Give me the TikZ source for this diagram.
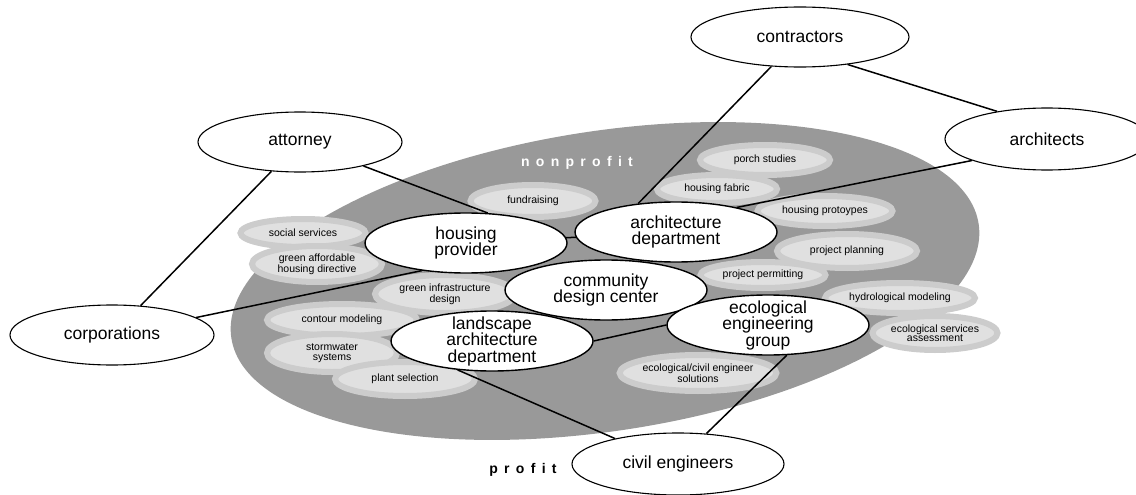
\documentclass[tikz,border=0pt]{standalone}
\usepackage{fontspec}
\setmainfont{Liberation Sans}
\usepackage{tikz}
\usetikzlibrary{shapes.geometric}

% gray field and the connectors sit under the white ellipses
\pgfdeclarelayer{shade}
\pgfdeclarelayer{links}
\pgfsetlayers{shade,links,main}

\begin{document}
\begin{tikzpicture}[x=1pt, y=-1pt, line width=1.4pt,
  main node/.style={ellipse,draw,fill=white,inner sep=0pt,inner ysep=-5pt,
    minimum width=202pt,minimum height=60pt,align=center,
    font=\fontsize{17.5}{16.5}\selectfont},
  side node/.style={main node,line width=1.1pt,minimum width=204pt},
  tag/.style={ellipse,fill=black!12,draw=black!20,line width=6pt,inner sep=0pt,
    minimum width=130pt,minimum height=30pt,align=center,
    font=\fontsize{10.5}{9.5}\selectfont},
  zone/.style={font=\bfseries\fontsize{14}{14}\selectfont\addfontfeature{LetterSpace=45}}]

\useasboundingbox (0,0) rectangle (1136,495);

% main groups
\node[main node] (hp) at (466,243) {housing\\provider};
\node[main node] (ad) at (676,232) {architecture\\department};
\node[main node] (cdc) at (606,290) {community\\design center};
\node[main node] (la) at (492,341) {landscape\\architecture\\department};
\node[main node] (eg) at (768,325) {ecological\\engineering\\group};

% partners outside
\node[side node] (att) at (300,142) {attorney};
\node[side node, minimum width=218pt] (co) at (800,37) {contractors};
\node[side node, minimum height=62pt] (ar) at (1047,139) {architects};
\node[side node] (corp) at (112,335) {corporations};
\node[side node, minimum width=212pt, minimum height=62pt] (ce) at (678,464) {civil engineers};

\begin{pgfonlayer}{shade}
\fill[black!40, rotate around={8.7:(605,281)}] (605,281) ellipse [x radius=378pt, y radius=150pt];

\node[tag, minimum width=125pt, minimum height=32pt] (fund) at (533,201) {fundraising};
\node[tag] (porch) at (765,160) {porch studies};
\node[tag, minimum width=120pt, minimum height=28pt] (fabric) at (717,189) {housing fabric};
\node[tag, minimum width=135pt] (proto) at (825,211) {housing protoypes};
\node[tag, minimum width=140pt, minimum height=34pt] (plan) at (847,251) {project planning};
\node[tag, minimum width=125pt, minimum height=26pt] (permit) at (763,275) {project permitting};
\node[tag, minimum width=150pt] (hydro) at (900,298) {hydrological modeling};
\node[tag, minimum width=125pt, minimum height=34pt] (ecoserv) at (935,333) {ecological services\\assessment};
\node[tag, minimum width=145pt, minimum height=36pt] (ecociv) at (698,373) {ecological/civil engineer\\solutions};
\node[tag, minimum width=125pt, minimum height=28pt] (social) at (303,233) {social services};
\node[tag, minimum height=36pt] (gahd) at (317,264) {green affordable\\housing directive};
\node[tag, minimum width=140pt, minimum height=38pt] (gid) at (445,294) {green infrastructure\\design};
\node[tag, minimum width=150pt, minimum height=32pt] (contour) at (342,320) {contour modeling};
\node[tag, minimum height=38pt] (storm) at (332,353) {stormwater\\systems};
\node[tag, minimum width=140pt, minimum height=34pt] (plant) at (405,379) {plant selection};

\node[zone, text=white] (np) at (577,163) {nonprofit};
\end{pgfonlayer}

\node[zone] (pr) at (523,470) {profit};

\begin{pgfonlayer}{links}
\path[line width=1.5pt]
(att) edge (hp.54)
(att) edge (corp)
(corp) edge (hp.212)
(co) edge (ad.143)
(co.-30) edge (ar.151)
(ar.196) edge (ad.22)
(hp) edge (ad)
(la.east) edge (eg.west)
(la.220) edge (ce.158)
(eg.-58) edge (ce.47)
;
\end{pgfonlayer}

\end{tikzpicture}
\end{document}
